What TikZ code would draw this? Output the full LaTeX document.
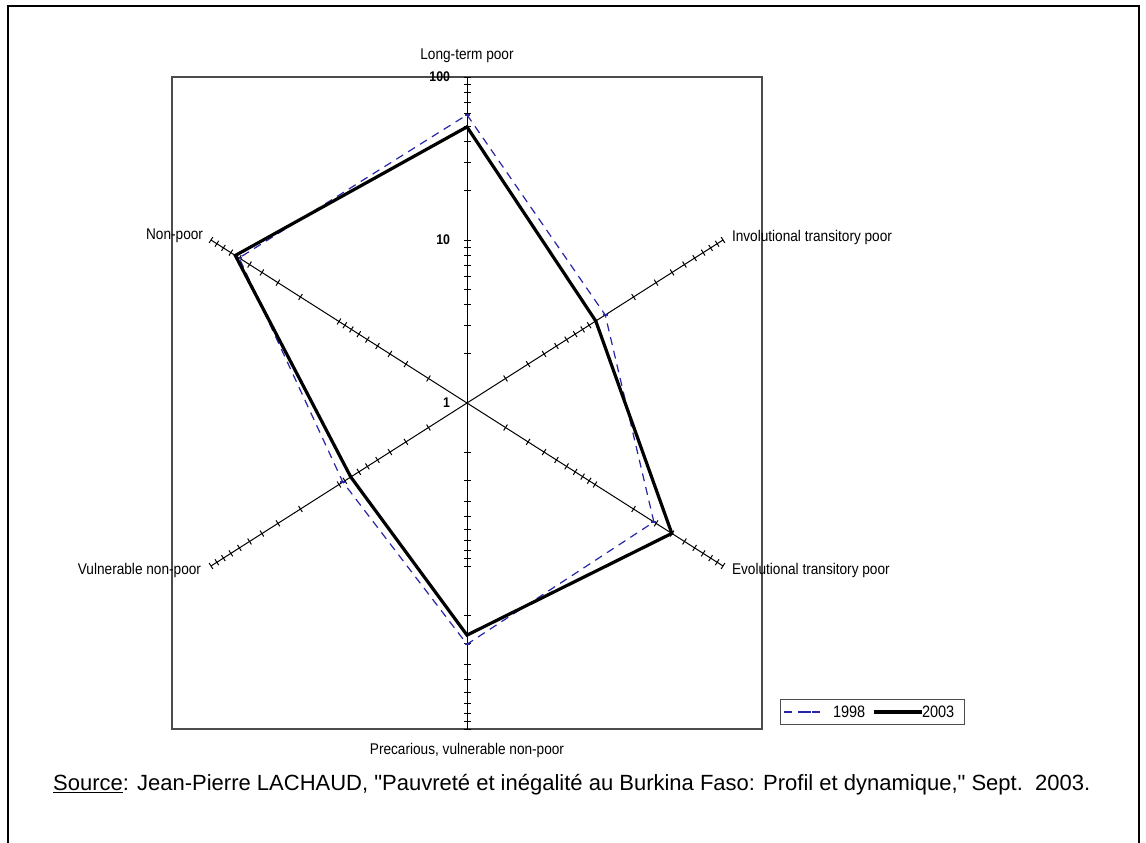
\documentclass[tikz,border=0pt]{standalone}
\usepackage{fontspec}
\setmainfont{Liberation Sans}[FakeStretch=0.88]
\newfontfamily\srcfont{Liberation Sans}[Ligatures=TeXOff]
\usetikzlibrary{calc}

\newlength{\du}
\setlength{\du}{1pt}

\definecolor{dialinecolor}{rgb}{0.000000, 0.000000, 0.000000}
\definecolor{framecolor}{rgb}{0.300000, 0.300000, 0.300000}
\definecolor{seriesblue}{rgb}{0.150000, 0.150000, 0.650000}

\tikzset{
  axisline/.style={line width=1\du, draw=dialinecolor},
  axistick/.style={line width=1\du, draw=dialinecolor},
  catlabel/.style={font=\fontsize{15.5\du}{17\du}\selectfont, inner sep=0pt, outer sep=0pt},
  vallabel/.style={font=\fontsize{14\du}{16\du}\selectfont\bfseries, anchor=east, inner sep=0pt, outer sep=0pt},
  legtext/.style={font=\fontsize{16.5\du}{18\du}\selectfont, anchor=west, inner sep=0pt, outer sep=0pt},
  line2003/.style={line width=3.2\du, draw=dialinecolor, line join=miter},
  line1998/.style={line width=1.2\du, draw=seriesblue, dash pattern=on 8\du off 6\du},
}

\begin{document}
\begin{tikzpicture}
\pgftransformyscale{-1.000000}
\useasboundingbox (0\du,0\du) rectangle (1146\du,843\du);
% outer frame, open at the bottom
\draw[line width=2\du] (8\du,843\du)--(8\du,6\du)--(1139\du,6\du)--(1139\du,843\du);
% plot area
\draw[line width=1.2\du, draw=framecolor] (172\du,77\du) rectangle (762\du,729\du);

% centre and ends of the six axes
\coordinate (c) at (467\du,403\du);
\coordinate (ltp) at (467\du,77\du);
\coordinate (itp) at (723\du,240\du);
\coordinate (etp) at (723\du,566\du);
\coordinate (pvn) at (467\du,729\du);
\coordinate (vnp) at (211\du,566\du);
\coordinate (np) at (211\du,240\du);

% axes with log ticks
\foreach \a in {ltp,itp,etp,pvn,vnp,np}{
  \draw[axisline] (c)--(\a);
  \foreach \v in {2,...,9,10,20,...,90,100}{
    \coordinate (t) at ($(c)!{log10(\v)/2}!(\a)$);
    \draw[axistick] ($(t)!3.5\du!90:(\a)$)--($(t)!3.5\du!-90:(\a)$);
  }
}

% value labels
\node[vallabel] (v100) at (450\du,77\du){100};
\node[vallabel] (v10) at (450\du,240\du){10};
\node[vallabel] (v1) at (450\du,403\du){1};

% category labels
\node[catlabel, anchor=center] (lltp) at (467\du,56\du){Long-term poor};
\node[catlabel, anchor=west] (litp) at (732\du,237\du){Involutional transitory poor};
\node[catlabel, anchor=west] (letp) at (732\du,570\du){Evolutional transitory poor};
\node[catlabel, anchor=center] (lpvn) at (467\du,750\du){Precarious, vulnerable non-poor};
\node[catlabel, anchor=east] (lvnp) at (201\du,570\du){Vulnerable non-poor};
\node[catlabel, anchor=east] (lnp) at (203\du,236\du){Non-poor};

% series 1998
\coordinate (a1) at ($(c)!0.884!(ltp)$);
\coordinate (a2) at ($(c)!0.540!(itp)$);
\coordinate (a3) at ($(c)!0.730!(etp)$);
\coordinate (a4) at ($(c)!0.740!(pvn)$);
\coordinate (a5) at ($(c)!0.485!(vnp)$);
\coordinate (a6) at ($(c)!0.890!(np)$);
\draw[line1998] (a1)--(a2)--(a3)--(a4)--(a5)--(a6)--cycle;
\foreach \p in {a1,a2,a3,a4,a5,a6}{
  \draw[line width=2\du, draw=seriesblue] ($(\p)+(-2.5\du,0)$)--($(\p)+(2.5\du,0)$);
}

% series 2003
\coordinate (b1) at ($(c)!0.847!(ltp)$);
\coordinate (b2) at ($(c)!0.503!(itp)$);
\coordinate (b3) at ($(c)!0.800!(etp)$);
\coordinate (b4) at ($(c)!0.712!(pvn)$);
\coordinate (b5) at ($(c)!0.454!(vnp)$);
\coordinate (b6) at ($(c)!0.905!(np)$);
\draw[line2003] (b1)--(b2)--(b3)--(b4)--(b5)--(b6)--cycle;

% legend
\draw[line width=1\du, draw=framecolor] (780\du,699\du) rectangle (964\du,724\du);
\coordinate (k1) at (784\du,712\du);
\coordinate (k2) at (823\du,712\du);
\coordinate (k3) at (874\du,712\du);
\coordinate (k4) at (922\du,712\du);
\draw[line1998] (k1)--(k2);
\draw[line width=2\du, draw=seriesblue] (806\du,712\du)--(811\du,712\du);
\node[legtext] (l1998) at (833\du,712\du){1998};
\draw[line2003] (k3)--(k4);
\node[legtext] (l2003) at (922\du,712\du){2003};

% source line
\node[anchor=west, inner sep=0pt, font=\srcfont\fontsize{22\du}{24\du}\selectfont] (src) at (53\du,785\du){\underline{Source}: Jean-Pierre LACHAUD, "Pauvreté et inégalité au Burkina Faso: Profil et dynamique," Sept.\ \ 2003.};
\end{tikzpicture}
\end{document}
